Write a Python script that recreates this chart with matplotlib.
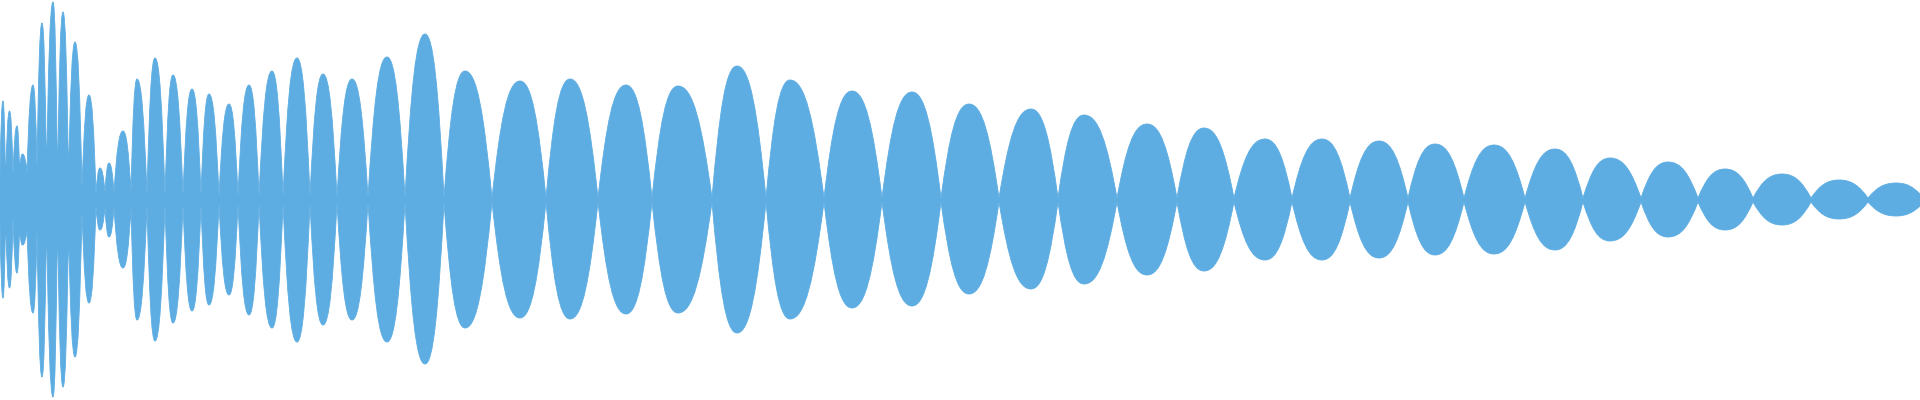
import matplotlib
matplotlib.use('Agg')
import matplotlib.pyplot as plt
from matplotlib.path import Path
from matplotlib.patches import PathPatch

# Waveform envelope: nodes (pinch points) and lobe peaks, in pixel columns
node_x = [0, 5.5, 13, 19.5, 27, 37, 46.5, 57.5, 68.5, 82, 96, 105, 114, 131, 147,
          165, 183, 201, 219, 238, 259, 283, 310, 337, 368, 405, 444, 492, 546,
          598, 652, 712, 766, 824, 882, 941, 999, 1058, 1117, 1177, 1234, 1292,
          1350, 1408, 1464, 1525, 1583, 1641, 1698, 1753, 1811, 1868, 1920]
node_top = [25, 13, 25, 30, 28, 33, 25, 18, 23, 12, 6, 8, 8, 8, 6, 5, 5, 5, 4, 4,
            4, 4, 4, 3, 3, 3, 3, 2, 2, 2, 2, 2, 2, 2, 2, 2, 2, 2, 2, 2, 2, 2, 2,
            2, 2, 2, 2, 2, 2, 2, 2, 2, 6]
node_bot = [23, 13, 18, 28, 30, 30, 20, 18, 30, 12, 6, 8, 8, 8, 6, 5, 5, 5, 4, 4,
            4, 4, 4, 3, 3, 3, 3, 2, 2, 2, 2, 2, 2, 2, 2, 2, 2, 2, 2, 2, 2, 2, 2,
            2, 2, 2, 2, 2, 2, 2, 2, 2, 6]

peak_x = [3, 9.5, 17, 22.5, 33, 42, 53, 63, 75, 89, 100, 109, 123, 137, 155, 173,
          192, 209, 229, 249, 272, 297, 323, 352, 387, 425, 465, 520, 570, 626,
          678, 737, 790, 852, 912, 969, 1031, 1084, 1147, 1204, 1265, 1322, 1379,
          1435, 1494, 1555, 1610, 1668, 1725, 1782, 1839, 1896]
peak_top = [99, 89, 74, 46, 115, 177, 198, 188, 158, 105, 32, 37, 69, 121, 142,
            125, 111, 106, 96, 115, 129, 142, 126, 121, 143, 166, 129, 119, 121,
            115, 114, 134, 120, 109, 108, 96, 91, 85, 76, 72, 61, 61, 59, 56, 55,
            51, 42, 38, 31, 26, 20, 17]
peak_bot = [98, 88, 73, 45, 113, 177, 197, 187, 157, 103, 30, 37, 68, 120, 141,
            123, 111, 105, 95, 115, 128, 142, 125, 120, 142, 164, 128, 118, 119,
            114, 113, 133, 119, 108, 106, 94, 89, 84, 75, 71, 60, 60, 58, 55, 54,
            50, 41, 37, 30, 25, 19, 16]

COLOR = '#5dade2'


def edge_points(nodes_y, peaks_y, sign):
    # alternate node -> peak -> node: near-straight flanks, rounded top
    pts = [(node_x[0], sign * nodes_y[0])]
    seq = []
    for i in range(len(peak_x)):
        seq.append((peak_x[i], sign * peaks_y[i], 'up'))
        seq.append((node_x[i + 1], sign * nodes_y[i + 1], 'down'))
    x0, y0 = pts[0]
    for x1, y1, kind in seq:
        w = x1 - x0
        if kind == 'up':
            c1 = (x0 + 0.30 * w, y0 + 0.66 * (y1 - y0))
            c2 = (x0 + 0.55 * w, y1)
        else:
            c1 = (x0 + 0.45 * w, y0)
            c2 = (x0 + 0.70 * w, y1 + 0.66 * (y0 - y1))
        pts += [c1, c2, (x1, y1)]
        x0, y0 = x1, y1
    return pts


top = edge_points(node_top, peak_top, 1)
bot = edge_points(node_bot, peak_bot, -1)[::-1]

verts = top + bot + [top[0]]
codes = ([Path.MOVETO] + [Path.CURVE4] * (len(top) - 1)
         + [Path.LINETO] + [Path.CURVE4] * (len(bot) - 1) + [Path.CLOSEPOLY])

fig = plt.figure(figsize=(19.2, 4), dpi=100)
ax = fig.add_axes([0, 0, 1, 1])
ax.add_patch(PathPatch(Path(verts, codes), facecolor=COLOR, edgecolor=COLOR, lw=0.6))
ax.set_xlim(0, 1920)
ax.set_ylim(-200, 200)
ax.axis('off')

fig.savefig('out.png', dpi=100)
